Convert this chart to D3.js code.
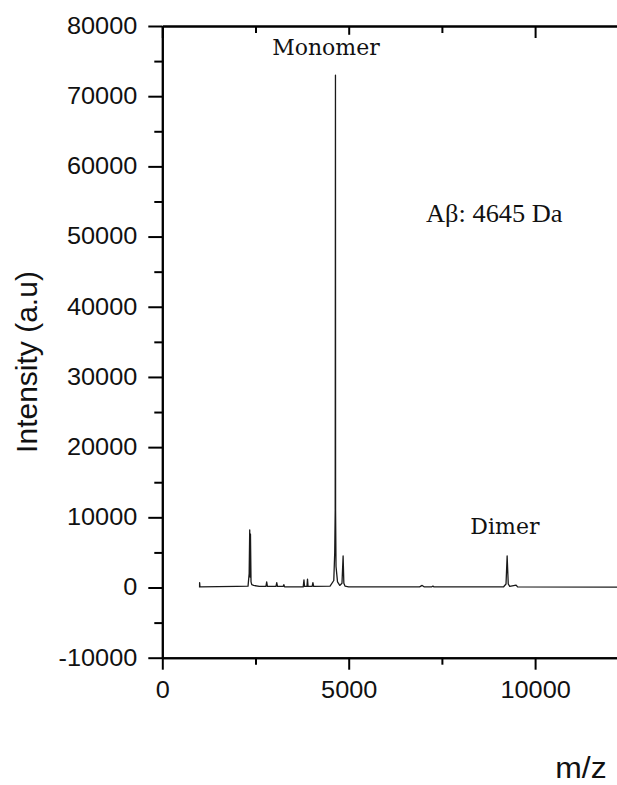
<!DOCTYPE html>
<html>
<head>
<meta charset="utf-8">
<script src="https://cdn.jsdelivr.net/npm/d3@7"></script>
<style>
  html, body { margin: 0; padding: 0; background: #fff; }
  svg { display: block; }
</style>
</head>
<body>
<div id="chart"></div>
<script>
// DATA ######################################################
// MALDI spectrum (m/z, intensity a.u.)
const mz = [
  1000, 1001, 1010, 1500, 2000, 2300, 2330, 2345, 2355, 2365, 2380, 2400, 2450,
  2600, 2780, 2800, 2820, 3050, 3070, 3090, 3240, 3260, 3280, 3780, 3800, 3815,
  3880, 3895, 3910, 4020, 4040, 4060, 4500, 4600, 4625, 4638, 4643, 4645, 4648,
  4660, 4700, 4760, 4820, 4850, 4870, 4900, 5000, 6900, 6970, 7020, 7230, 7260,
  7290, 9150, 9220, 9250, 9280, 9320, 9490, 9530, 12500
];
const intensity = [
  0, 700, 100, 120, 150, 200, 2000, 8200, 1500, 7600, 800, 400, 300,
  150, 150, 800, 150, 150, 700, 150, 150, 400, 100, 100, 1100, 150,
  150, 1200, 150, 150, 700, 150, 200, 1000, 5000, 11000, 57000, 73000, 11000,
  3000, 800, 300, 600, 4500, 600, 200, 100, 100, 300, 100, 100, 200,
  80, 80, 500, 4500, 500, 150, 350, 80, 60
];

const xTicks = [0, 5000, 10000];
const xMinor = [2500, 7500];
const yTicks = [-10000, 0, 10000, 20000, 30000, 40000, 50000, 60000, 70000, 80000];
const yMinor = [-5000, 5000, 15000, 25000, 35000, 45000, 55000, 65000, 75000];

// CONSTANTS #################################################
const width = 617;
const height = 785;
const marginLeft = 162.3;
const marginTop = 26;
const axisBottomY = 657.7;
const pxPer5000 = 186.4;
const stretch = 1.1;   // the source picture is a little wider than tall

// SCALES ====================================================
const xScale = d3.scaleLinear()
    .domain([0, 15000])
    .range([marginLeft, marginLeft + pxPer5000 * 3]);

const yScale = d3.scaleLinear()
    .domain([-10000, 80000])
    .range([axisBottomY, marginTop]);

const svg = d3.select("#chart")
    .append("svg")
    .attr("width", width)
    .attr("height", height)
    .style("font-family", "'Liberation Sans', Arial, sans-serif");

// SPECTRUM ==================================================
const points = mz.map((m, i) => [m, intensity[i]]);

svg.append("path")
    .datum(points)
    .attr("fill", "none")
    .attr("stroke", "#1a1a1a")
    .attr("stroke-width", 1.3)
    .attr("stroke-linejoin", "round")
    .attr("d", d3.line()
        .x(d => xScale(d[0]))
        .y(d => yScale(d[1])));

// AXES ======================================================
function widen(sel, k) {
  sel.each(function() {
    const len = this.getComputedTextLength();
    d3.select(this)
        .attr("textLength", len * k)
        .attr("lengthAdjust", "spacingAndGlyphs");
  });
}

function styleAxis(g) {
  g.selectAll("path.domain").attr("stroke", "#000").attr("stroke-width", 2);
  g.selectAll(".tick line").attr("stroke", "#000").attr("stroke-width", 2);
  g.selectAll(".tick text")
      .attr("fill", "#111")
      .style("font-size", "23px")
      .style("font-family", "'Liberation Sans', Arial, sans-serif")
      .call(widen, stretch);
}

// left
svg.append("g")
    .attr("transform", `translate(${marginLeft},0)`)
    .call(d3.axisLeft(yScale).tickValues(yMinor).tickSize(8).tickSizeOuter(0).tickFormat(""))
    .call(styleAxis);

svg.append("g")
    .attr("transform", `translate(${marginLeft},0)`)
    .call(d3.axisLeft(yScale).tickValues(yTicks).tickSize(14).tickPadding(11)
        .tickSizeOuter(0).tickFormat(d => String(d)))
    .call(styleAxis);

// bottom
svg.append("g")
    .attr("transform", `translate(0,${axisBottomY})`)
    .call(d3.axisBottom(xScale).tickValues(xMinor).tickSize(7).tickSizeOuter(0).tickFormat(""))
    .call(styleAxis);

svg.append("g")
    .attr("transform", `translate(0,${axisBottomY})`)
    .call(d3.axisBottom(xScale).tickValues(xTicks).tickSize(12).tickPadding(12)
        .tickSizeOuter(0).tickFormat(d => String(d)))
    .call(styleAxis);

// top (ticks pointing in)
svg.append("g")
    .attr("transform", `translate(0,${marginTop})`)
    .call(d3.axisTop(xScale).tickValues(xMinor).tickSize(-7).tickSizeOuter(0).tickFormat(""))
    .call(styleAxis);

svg.append("g")
    .attr("transform", `translate(0,${marginTop})`)
    .call(d3.axisTop(xScale).tickValues(xTicks).tickSize(-12).tickSizeOuter(0).tickFormat(""))
    .call(styleAxis);

// AXIS TITLES ===============================================
svg.append("text")
    .attr("transform", `translate(37,362) rotate(-90)`)
    .attr("text-anchor", "middle")
    .style("font-size", "30px")
    .style("fill", "#111")
    .text("Intensity (a.u)");

svg.append("text")
    .attr("x", 581)
    .attr("y", 778)
    .attr("text-anchor", "middle")
    .style("font-size", "29px")
    .style("fill", "#111")
    .text("m/z")
    .call(widen, stretch);

// ANNOTATIONS ===============================================
const mono = svg.append("text")
    .attr("x", xScale(4390))
    .attr("y", yScale(75900))
    .attr("text-anchor", "middle")
    .style("font-family", "'DejaVu Serif', serif")
    .style("font-size", "22px")
    .style("fill", "#111")
    .text("Monomer");

const bb = mono.node().getBBox();
svg.insert("rect", () => mono.node())
    .attr("x", bb.x - 2)
    .attr("y", bb.y)
    .attr("width", bb.width + 4)
    .attr("height", bb.height)
    .attr("fill", "#fff");

svg.append("text")
    .attr("x", xScale(9190))
    .attr("y", yScale(7620))
    .attr("text-anchor", "middle")
    .style("font-family", "'DejaVu Serif', serif")
    .style("font-size", "22px")
    .style("fill", "#111")
    .text("Dimer");

svg.append("text")
    .attr("x", xScale(7076))
    .attr("y", yScale(52110))
    .style("font-family", "'Liberation Serif', 'Times New Roman', serif")
    .style("font-size", "25px")
    .style("fill", "#111")
    .text("Aβ: 4645 Da")
    .call(widen, 1.055);
</script>
</body>
</html>
